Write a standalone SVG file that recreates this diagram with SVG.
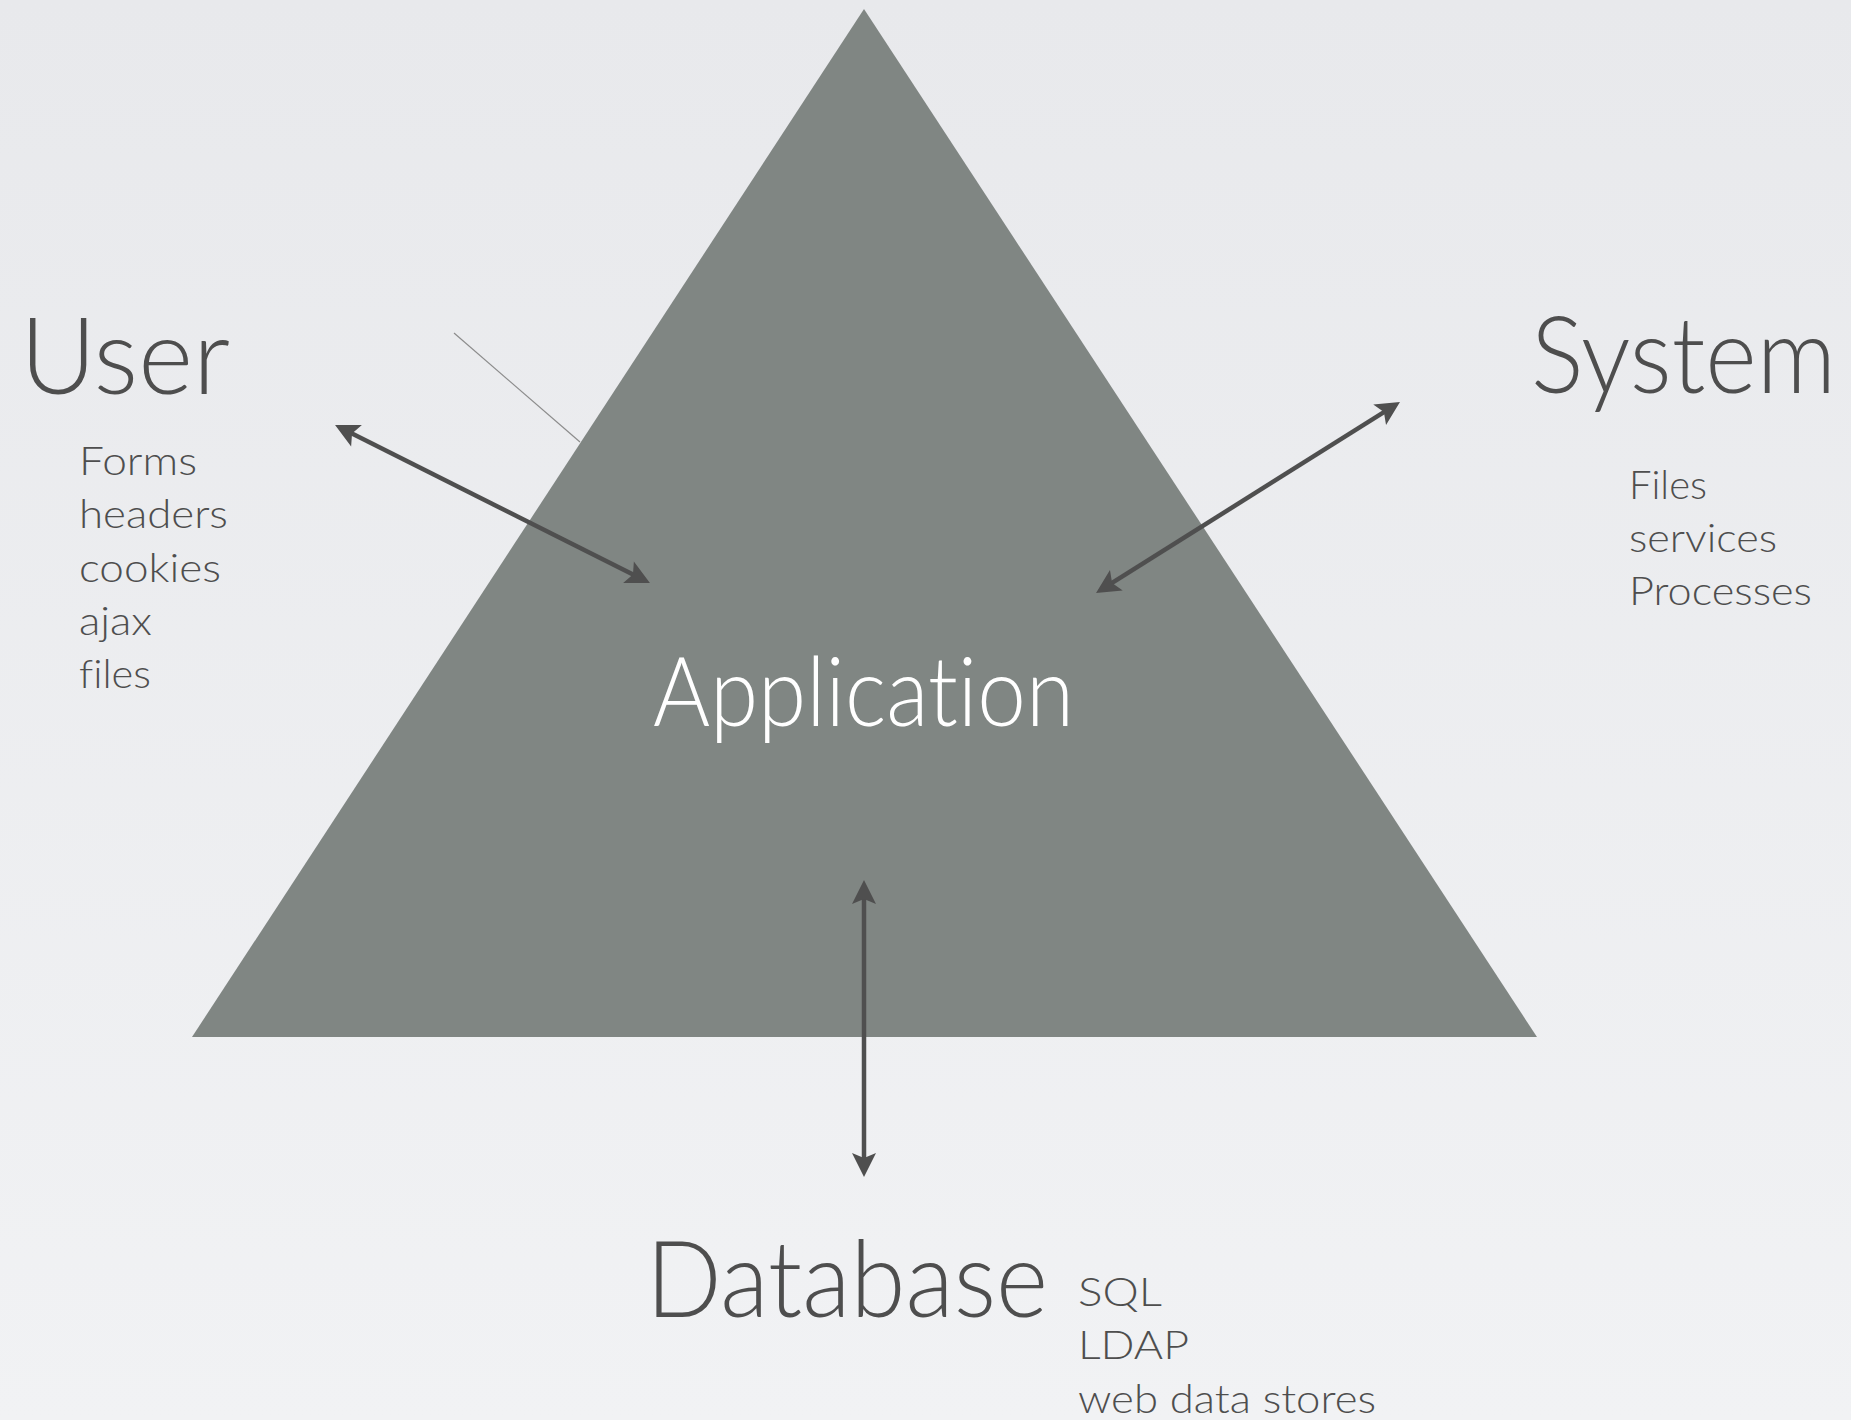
<svg xmlns="http://www.w3.org/2000/svg" width="1851" height="1420" viewBox="0 0 1851 1420">
  <defs>
    <linearGradient id="bg" x1="0" y1="0" x2="0" y2="1">
      <stop offset="0" stop-color="#e8e9ec"/>
      <stop offset="1" stop-color="#f1f2f4"/>
    </linearGradient>
    <marker id="head" viewBox="-16 -14 28 28" refX="0" refY="0" markerWidth="28" markerHeight="28" markerUnits="userSpaceOnUse" orient="auto-start-reverse">
      <path d="M10,0 L-14,-12 L-9,0 L-14,12 Z" fill="#4f4f4f"/>
    </marker>
    <style>
      .title { font-family: Lato, "Liberation Sans", sans-serif; font-weight: 300; fill: #4e4e4e; font-variant-ligatures: none; }
      .big { font-size: 106px; }
      .small { font-size: 40px; }
      .light { fill: #ffffff; font-size: 96px; }
      .link { stroke: #4f4f4f; stroke-width: 4.5; fill: none; marker-start: url(#head); marker-end: url(#head); }
      .thin { stroke: #8c8c8c; stroke-width: 1.2; fill: none; }
    </style>
  </defs>

  <rect x="0" y="0" width="1851" height="1420" fill="url(#bg)"/>

  <!-- central triangle -->
  <g id="application">
    <polygon points="864,9 1537,1037 192,1037" fill="#808683"/>
    <text class="title light" x="653" y="726" textLength="421" lengthAdjust="spacingAndGlyphs">Application</text>
  </g>

  <g id="user">
    <text class="title big" x="20" y="394" textLength="210" lengthAdjust="spacingAndGlyphs">User</text>
    <text class="title small" x="79" y="475" textLength="118" lengthAdjust="spacingAndGlyphs">Forms</text>
    <text class="title small" x="79" y="528" textLength="149" lengthAdjust="spacingAndGlyphs">headers</text>
    <text class="title small" x="79" y="582" textLength="142" lengthAdjust="spacingAndGlyphs">cookies</text>
    <text class="title small" x="79" y="635" textLength="73" lengthAdjust="spacingAndGlyphs">ajax</text>
    <text class="title small" x="79" y="688" textLength="72" lengthAdjust="spacingAndGlyphs">files</text>
  </g>

  <g id="system">
    <text class="title big" x="1531" y="393" textLength="305" lengthAdjust="spacingAndGlyphs">System</text>
    <text class="title small" x="1629" y="499" textLength="78" lengthAdjust="spacingAndGlyphs">Files</text>
    <text class="title small" x="1629" y="552" textLength="148" lengthAdjust="spacingAndGlyphs">services</text>
    <text class="title small" x="1629" y="605" textLength="183" lengthAdjust="spacingAndGlyphs">Processes</text>
  </g>

  <g id="database">
    <text class="title big" x="646" y="1317" textLength="402" lengthAdjust="spacingAndGlyphs">Database</text>
    <text class="title small" x="1078" y="1306" textLength="84" lengthAdjust="spacingAndGlyphs">SQL</text>
    <text class="title small" x="1078" y="1359" textLength="111" lengthAdjust="spacingAndGlyphs">LDAP</text>
    <text class="title small" x="1078" y="1413" textLength="298" lengthAdjust="spacingAndGlyphs">web data stores</text>
  </g>

  <g id="connectors">
    <line class="thin" x1="454" y1="333" x2="580" y2="442"/>
    <line class="link" x1="344" y1="429.5" x2="641" y2="578.5"/>
    <line class="link" x1="1391.5" y1="407.3" x2="1104.5" y2="587.7"/>
    <line class="link" x1="864" y1="890" x2="864" y2="1167"/>
  </g>
</svg>
